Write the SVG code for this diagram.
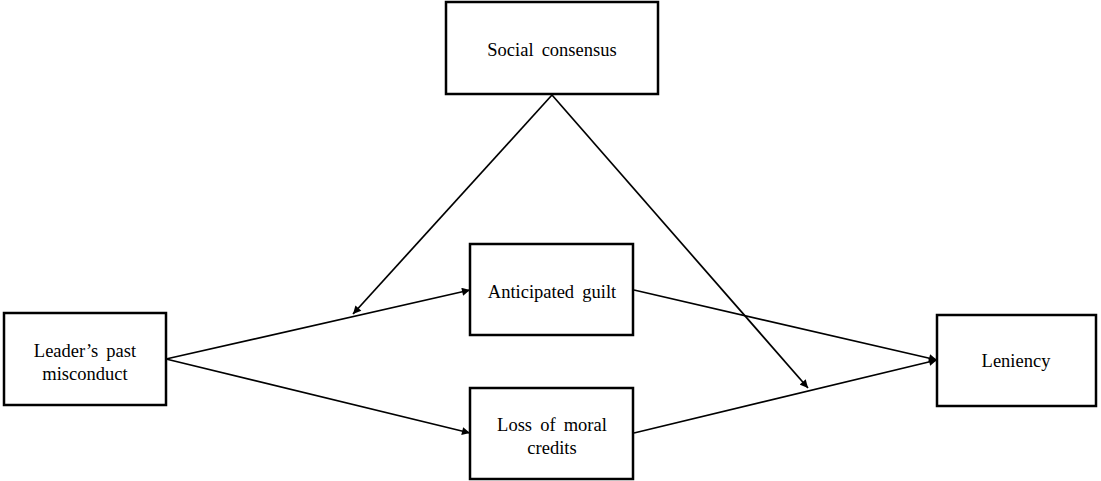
<svg xmlns="http://www.w3.org/2000/svg" width="1101" height="481" viewBox="0 0 1101 481">
<style>
.box{fill:#fff;stroke:#000;stroke-width:2.5}
.lbl{font-family:"Liberation Serif","DejaVu Serif",serif;font-size:18.5px;word-spacing:3.5px;fill:#000;text-anchor:middle}
.con{stroke:#000;stroke-width:1.7;fill:none;marker-end:url(#ah)}
</style>
<defs>
<marker id="ah" viewBox="0 0 10 10" refX="10" refY="5" markerWidth="9" markerHeight="8" markerUnits="userSpaceOnUse" orient="auto">
<path d="M0,0 L10,5 L0,10 z" fill="#000"/>
</marker>
</defs>
<rect width="1101" height="481" fill="#fff"/>
<g id="connectors">
<line class="con" x1="166" y1="359" x2="470" y2="290"/>
<line class="con" x1="166" y1="359" x2="470" y2="433"/>
<line class="con" x1="634" y1="290" x2="937" y2="360"/>
<line class="con" x1="634" y1="433" x2="937" y2="360"/>
<line class="con" x1="552" y1="95" x2="353" y2="314"/>
<line class="con" x1="552" y1="95" x2="808" y2="388"/>
</g>
<g id="social">
<rect class="box" x="446" y="2" width="212" height="92"/>
<text class="lbl" font-family="Liberation Serif, DejaVu Serif, serif" x="552" y="56">Social consensus</text>
</g>
<g id="leader">
<rect class="box" x="4" y="313" width="162" height="92"/>
<text class="lbl" font-family="Liberation Serif, DejaVu Serif, serif" x="85" y="357">Leader’s past</text>
<text class="lbl" font-family="Liberation Serif, DejaVu Serif, serif" x="85" y="380">misconduct</text>
</g>
<g id="guilt">
<rect class="box" x="470" y="244" width="163" height="91"/>
<text class="lbl" font-family="Liberation Serif, DejaVu Serif, serif" x="552" y="298">Anticipated guilt</text>
</g>
<g id="credits">
<rect class="box" x="470" y="388" width="163" height="91"/>
<text class="lbl" font-family="Liberation Serif, DejaVu Serif, serif" x="552" y="431">Loss of moral</text>
<text class="lbl" font-family="Liberation Serif, DejaVu Serif, serif" x="552" y="454">credits</text>
</g>
<g id="leniency">
<rect class="box" x="937" y="315" width="159" height="91"/>
<text class="lbl" font-family="Liberation Serif, DejaVu Serif, serif" x="1016" y="367">Leniency</text>
</g>
</svg>
